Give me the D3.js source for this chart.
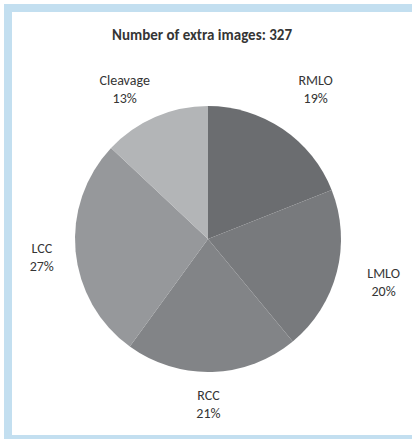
<!DOCTYPE html>
<html>
<head>
<meta charset="utf-8">
<script src="https://cdn.jsdelivr.net/npm/d3@7"></script>
<style>
  html, body { margin: 0; padding: 0; background: #ffffff; }
  svg { display: block; }
  text { font-family: Carlito, Lato, "Liberation Sans", sans-serif; fill: #353535; }
</style>
</head>
<body>
<script>
// Share of extra images by view type (percent of 327)
const categories = ["RMLO", "LMLO", "RCC", "LCC", "Cleavage"];
const percents = [19, 20, 21, 27, 13];
const totalImages = 327;
const titleText = "Number of extra images: " + totalImages;

const width = 412, height = 439;
const cx = 208, cy = 239, radius = 133;

const colors = d3.scaleOrdinal()
  .domain(categories)
  .range(["#6b6d70", "#787a7d", "#828487", "#96989b", "#b3b5b7"]);

// small adjustments for outside-end label placement
const labelNudge = {
  RMLO: [11, -8], LMLO: [9, 0], RCC: [-5, -7], LCC: [5, 2], Cleavage: [-15, 8]
};

const svg = d3.select("body").append("svg")
  .attr("width", width).attr("height", height);

// frame
svg.append("rect")
  .attr("x", 8).attr("y", 8)
  .attr("width", width + 10).attr("height", height - 4 - 8 + 4)
  .attr("fill", "#ffffff")
  .attr("stroke", "#c3dff0")
  .attr("stroke-width", 8);

svg.append("text")
  .attr("x", 202).attr("y", 40)
  .attr("text-anchor", "middle")
  .attr("font-size", 15)
  .attr("font-weight", "bold")
  .attr("fill", "#222")
  .text(titleText);

const data = categories.map((c, i) => ({ name: c, value: percents[i] }));

const pie = d3.pie().sort(null).value(d => d.value);
const arcs = pie(data);
const arc = d3.arc().innerRadius(0).outerRadius(radius);
const labelArc = d3.arc().innerRadius(172).outerRadius(172);

const g = svg.append("g").attr("transform", `translate(${cx},${cy})`);

g.selectAll("path.slice")
  .data(arcs)
  .join("path")
  .attr("class", "slice")
  .attr("d", arc)
  .attr("fill", d => colors(d.data.name));

const labels = g.selectAll("g.label")
  .data(arcs)
  .join("g")
  .attr("class", "label")
  .attr("transform", d => {
    const [x, y] = labelArc.centroid(d);
    const [nx, ny] = labelNudge[d.data.name];
    return `translate(${x + nx},${y + ny})`;
  });

labels.append("text")
  .attr("text-anchor", "middle")
  .attr("font-size", 14)
  .attr("y", -4)
  .text(d => d.data.name);

labels.append("text")
  .attr("text-anchor", "middle")
  .attr("font-size", 14)
  .attr("y", 14)
  .text(d => d.data.value + "%");
</script>
</body>
</html>
